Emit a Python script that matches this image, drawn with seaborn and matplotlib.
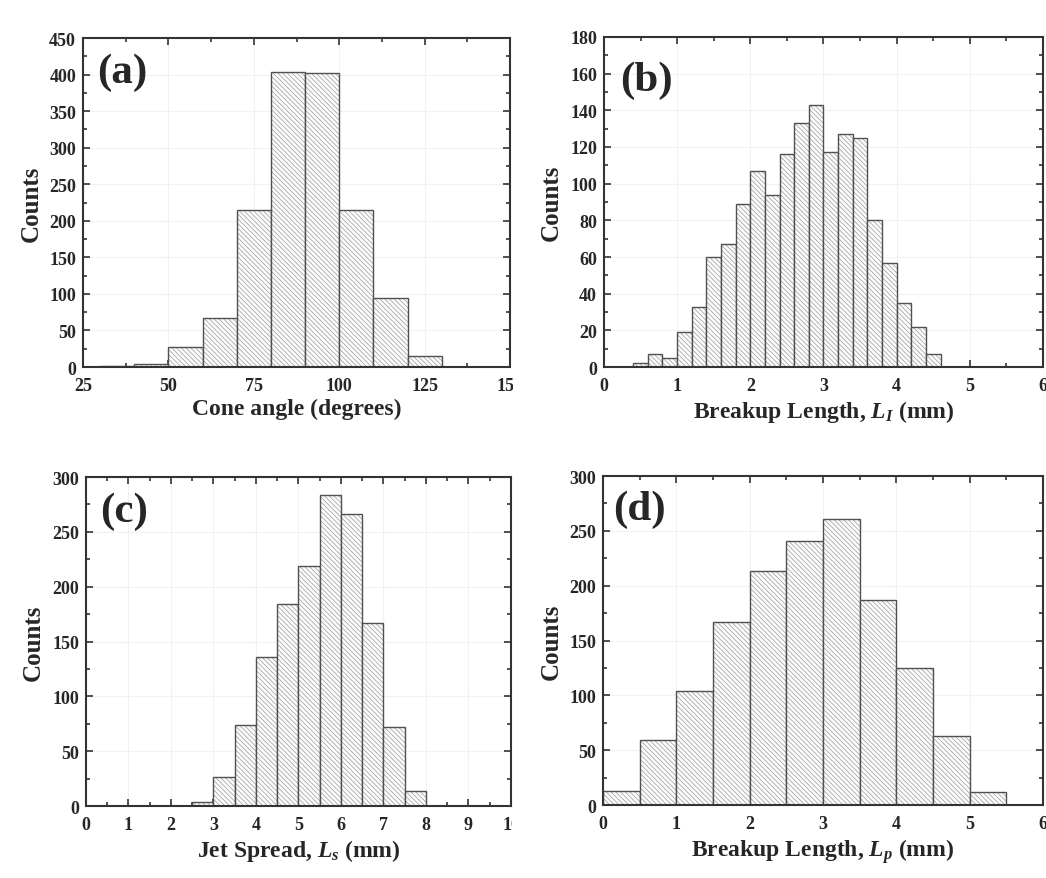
import numpy as np
import matplotlib
matplotlib.use("Agg")
import matplotlib.pyplot as plt
import matplotlib.colors as mcolors
import seaborn as sns
from matplotlib.ticker import MultipleLocator
from matplotlib.transforms import Bbox, TransformedBbox

# ---------------- data ----------------
# (a) Cone angle, bins of 10 degrees
a_edges = [30, 40, 50, 60, 70, 80, 90, 100, 110, 120, 130]
a_counts = [1, 4, 27, 67, 215, 403, 402, 215, 95, 15]

# (b) Breakup length L_I, bins of 0.2 mm
b_edges = [0.4, 0.6, 0.8, 1.0, 1.2, 1.4, 1.6, 1.8, 2.0, 2.2, 2.4, 2.6,
           2.8, 3.0, 3.2, 3.4, 3.6, 3.8, 4.0, 4.2, 4.4, 4.6]
b_counts = [2, 7, 5, 19, 33, 60, 67, 89, 107, 94, 116, 133,
            143, 117, 127, 125, 80, 57, 35, 22, 7]

# (c) Jet spread L_s, bins of 0.5 mm
c_edges = [2.5, 3.0, 3.5, 4.0, 4.5, 5.0, 5.5, 6.0, 6.5, 7.0, 7.5, 8.0]
c_counts = [4, 26, 74, 136, 184, 219, 284, 266, 167, 72, 14]

# (d) Breakup length L_p, bins of 0.5 mm
d_edges = [0.0, 0.5, 1.0, 1.5, 2.0, 2.5, 3.0, 3.5, 4.0, 4.5, 5.0, 5.5]
d_counts = [13, 59, 104, 167, 213, 241, 261, 187, 125, 63, 12]

panel_labels = ["(a)", "(b)", "(c)", "(d)"]
x_labels = ["Cone angle (degrees)",
            r"Breakup Length, $L_I$ (mm)",
            r"Jet Spread, $L_s$ (mm)",
            r"Breakup Length, $L_p$ (mm)"]
y_label = "Counts"

# ---------------- style ----------------
sns.set_theme(style="white")
plt.rcParams["font.family"] = ["Liberation Serif", "DejaVu Serif"]
plt.rcParams["font.weight"] = "bold"
plt.rcParams["mathtext.fontset"] = "custom"
plt.rcParams["mathtext.it"] = "Liberation Serif:italic:bold"
plt.rcParams["mathtext.rm"] = "Liberation Serif:bold"
plt.rcParams["hatch.linewidth"] = 0.5
plt.rcParams["hatch.color"] = "#9a9a9a"

fig = plt.figure(figsize=(10.46, 8.79), dpi=100)
fig.patch.set_facecolor("white")

positions = [
    [0.0794, 0.5813, 0.4082, 0.3743],
    [0.5774, 0.5813, 0.4197, 0.3755],
    [0.0822, 0.0819, 0.4063, 0.3743],
    [0.5765, 0.0830, 0.4206, 0.3743],
]
xlims = [(25, 150), (0, 6), (0, 10), (0, 6)]
ylims = [(0, 450), (0, 180), (0, 300), (0, 300)]
xmaj = [25, 1, 1, 1]
xmin = [12.5, 0.5, 0.5, 0.5]
ymaj = [50, 20, 50, 50]
ymin = [25, 10, 25, 25]
label_pos = [(0.033, 0.955), (0.036, 0.93), (0.033, 0.955), (0.023, 0.96)]
clip_right = [0.4905, None, 0.4893, None]

datasets = [(a_edges, a_counts), (b_edges, b_counts),
            (c_edges, c_counts), (d_edges, d_counts)]

hatch_rgba = mcolors.to_rgba("#9a9a9a")

for i, (edges, counts) in enumerate(datasets):
    ax = fig.add_axes(positions[i])
    centers = [(edges[k] + edges[k + 1]) / 2 for k in range(len(counts))]
    sns.histplot(x=centers, weights=counts, bins=edges, ax=ax,
                 color="white", alpha=1, edgecolor="#505050", linewidth=1.0,
                 hatch="\\\\\\\\\\\\\\", zorder=2)
    for p in ax.patches:
        p.set_facecolor("#fcfcfc")
        if hasattr(p, "set_hatchcolor"):
            try:
                p.set_hatchcolor("#9a9a9a")
            except Exception:
                p._hatch_color = hatch_rgba
        else:
            p._hatch_color = hatch_rgba

    ax.set_xlim(*xlims[i])
    ax.set_ylim(*ylims[i])
    ax.xaxis.set_major_locator(MultipleLocator(xmaj[i]))
    ax.xaxis.set_minor_locator(MultipleLocator(xmin[i]))
    ax.yaxis.set_major_locator(MultipleLocator(ymaj[i]))
    ax.yaxis.set_minor_locator(MultipleLocator(ymin[i]))
    ax.tick_params(which="both", direction="in", top=True, right=True,
                   bottom=True, left=True, color="#333333", width=1.2,
                   labelsize=13)
    ax.tick_params(axis="x", pad=7)
    ax.tick_params(axis="y", pad=5)
    ax.tick_params(which="major", length=5)
    ax.tick_params(which="minor", length=3)
    for lbl in ax.get_xticklabels() + ax.get_yticklabels():
        lbl.set_fontweight("bold")
    ax.grid(True, which="major", color="#f1f1f1", linewidth=0.8, zorder=0)
    ax.set_axisbelow(True)
    for s in ax.spines.values():
        s.set_color("#333333")
        s.set_linewidth(1.5)
        s.set_visible(True)

    ax.set_xlabel(x_labels[i], fontsize=17, fontweight="bold", labelpad=3)
    ax.set_ylabel(y_label, fontsize=18, fontweight="bold", labelpad=5)
    ax.text(label_pos[i][0], label_pos[i][1], panel_labels[i],
            transform=ax.transAxes, fontsize=31, fontweight="bold",
            ha="left", va="top")

    if clip_right[i] is not None:
        cb = TransformedBbox(Bbox([[0, 0], [clip_right[i], 1]]), fig.transFigure)
        for lbl in ax.get_xticklabels():
            lbl.set_clip_box(cb)
            lbl.set_clip_on(True)

fig.savefig("out.png", dpi=100, facecolor="white")
